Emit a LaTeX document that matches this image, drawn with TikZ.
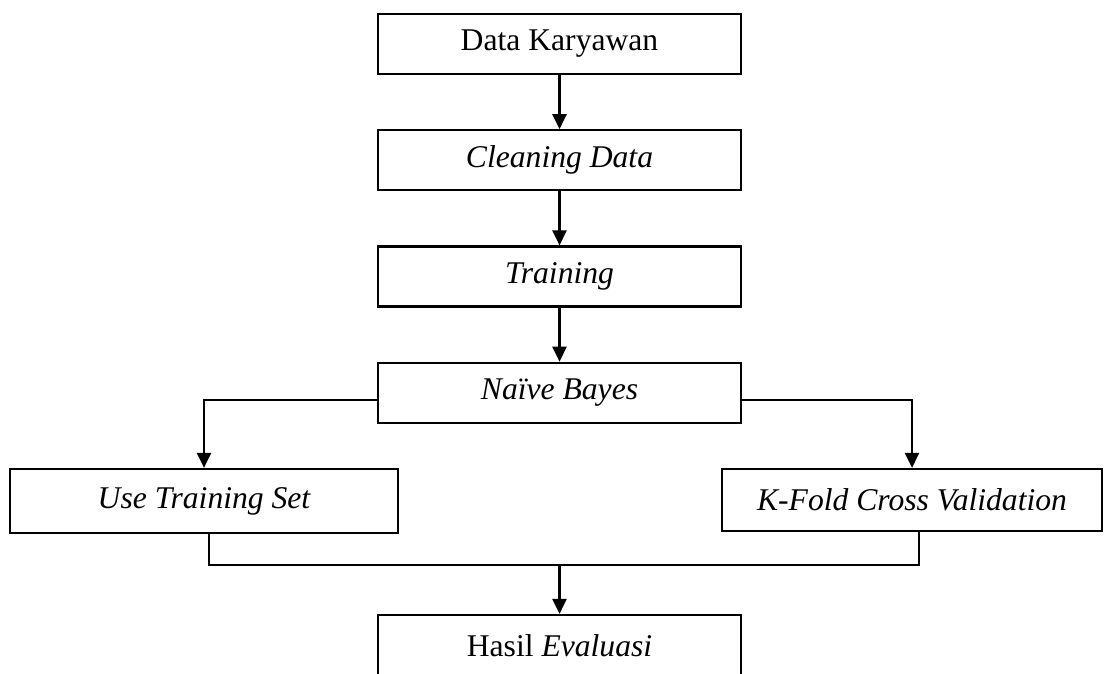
\documentclass[tikz,border=0pt]{standalone}
\usepackage{fontspec}
\setmainfont{Liberation Serif}
\usetikzlibrary{arrows.meta,positioning}

\begin{document}
\begin{tikzpicture}[x=.02cm,y=-.02cm,
box/.style={draw,line width=1.3pt,minimum width=7.26cm,minimum height=1.2cm,inner sep=0pt,font=\fontsize{18}{22}\selectfont},
arr/.style={line width=1.3pt,-{Triangle[width=8pt,length=8.5pt]}}]
\useasboundingbox (0,0) rectangle (1104,673);
\clip (0,0) rectangle (1104,673);
\node[box] (dk) at (559.5,44) {Data Karyawan};
\node[box,below=1.08cm of dk] (cd) {\itshape Cleaning Data};
\node[box,below=1.08cm of cd] (tr) {\itshape Training};
\node[box,below=1.08cm of tr] (nb) {\itshape Naïve Bayes};
\node[box,minimum width=7.76cm,minimum height=1.28cm] (uts) at (204,501) {\itshape Use Training Set};
\node[box,minimum width=7.6cm,minimum height=1.24cm] (kfcv) at (912,500) {\itshape K-Fold Cross Validation};
\node[box,minimum height=1.24cm] (he) at (559.5,646) {Hasil \textit{Evaluasi}};
\coordinate (mg) at (559.5,565);
\foreach \a/\b in {dk/cd,cd/tr,tr/nb}{\draw[arr] (\a) -- (\b);}
\draw[arr] ([yshift=-.15cm]nb.west) -| (uts.north);
\draw[arr] ([yshift=-.15cm]nb.east) -| (kfcv.north);
\draw[line width=1.3pt] ([xshift=.1cm]uts.south) |- (mg) -| ([xshift=.14cm]kfcv.south);
\draw[arr] (mg) -- (he);
\end{tikzpicture}
\end{document}
